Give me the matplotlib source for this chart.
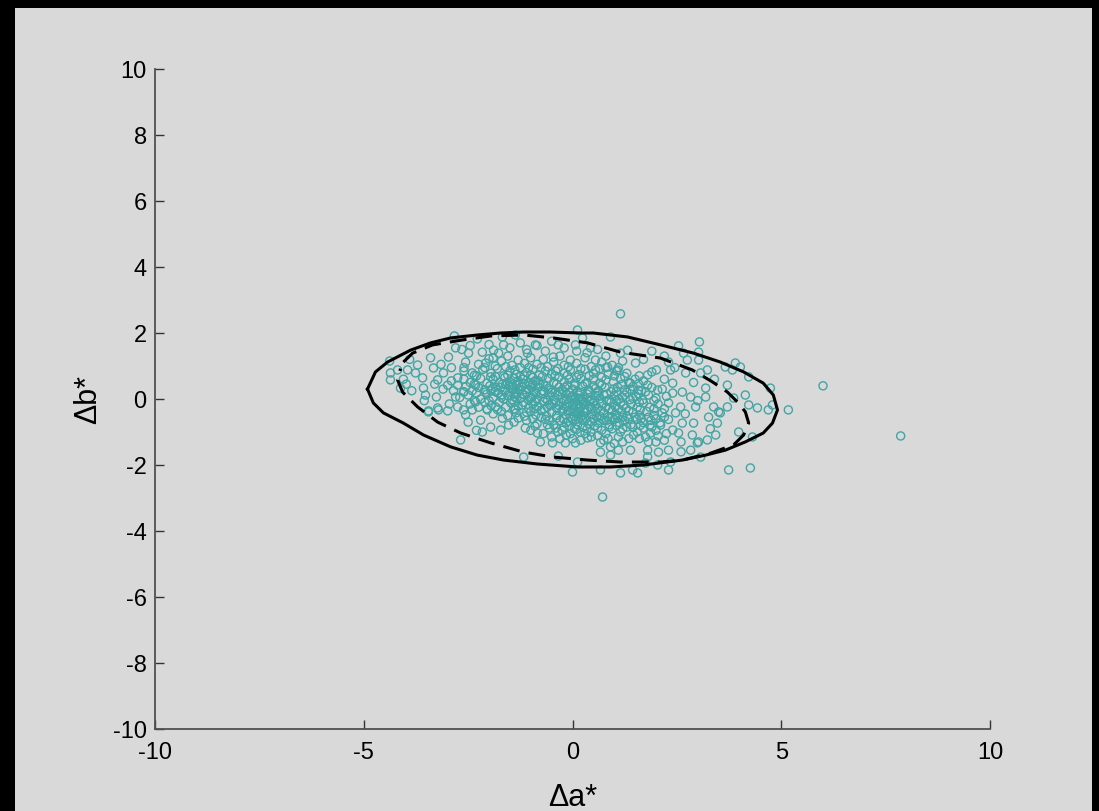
import numpy as np
import matplotlib
matplotlib.use("Agg")
import matplotlib.pyplot as plt
from matplotlib.patches import Rectangle

plt.rcParams['font.family'] = ['Liberation Sans', 'DejaVu Sans']
plt.rcParams['axes.unicode_minus'] = False

# colour difference samples (Δa*, Δb*)
left_pts = [
    (-4.38, 1.15), (-4.36, 0.79), (-4.36, 0.58), (-4.12, 0.33), (-4.19, 0.88),
    (-3.95, 0.88), (-3.98, 0.45), (-3.71, 1.03), (-3.76, 0.79), (-3.59, 0.64),
    (-3.57, 0.33), (-3.52, 0.12), (-3.26, 0.06), (-3.45, -0.36), (-3.23, -0.27),
    (-2.99, -0.36), (-3.33, 0.94), (-3.23, 0.58), (-3.09, 0.79), (-2.99, 0.42),
    (-2.97, 1.27), (-2.80, 1.55), (-2.75, 0.64), (-2.80, 0.06), (-2.61, 0.21),
    (-2.56, 1.12), (-2.49, 1.39), (-2.40, 0.79), (-2.32, 0.42), (-2.32, -0.09),
    (-2.16, 1.42), (-2.08, 1.09), (-1.89, 1.48), (-1.96, 0.67), (-1.77, 1.39),
    (-1.65, 1.64), (-1.84, 0.36), (-2.08, 0.21), (-2.61, -0.33), (-3.21, -0.33),
    (-2.83, 1.91), (-2.28, 1.82), (-1.68, 1.88), (-1.37, 1.94), (-2.68, -1.24),
    (-3.45, -0.39), (-2.75, -0.24), (-2.56, -0.48), (-2.40, -0.33), (-2.20, -0.64),
    (-2.16, -1.00), (-1.96, -0.85), (-1.72, -0.94), (-1.68, -0.58), (-1.53, -0.79),
    (-2.04, -0.33), (-1.84, -0.24), (-1.37, -0.33), (-3.90, 1.20), (-3.40, 1.25),
    (-3.15, 1.05), (-2.65, 1.50), (-2.90, 0.95), (-3.55, -0.05), (-2.95, -0.15),
    (-2.50, -0.70), (-2.30, -0.95), (-4.05, 0.60), (-3.85, 0.25), (-3.30, 0.45),
    (-2.60, 0.95), (-2.45, 1.62), (-2.00, 1.65), (-1.90, 1.25), (-1.50, 1.55),
    (-1.25, 1.70), (-1.10, 1.50), (-0.85, 1.62), (-0.65, 1.45), (-0.50, 1.75),
    (-0.20, 1.55), (0.10, 1.45), (0.35, 1.40), (0.60, 1.50), (0.80, 1.30),
]

upper_pts = [
    (0.12, 2.09), (-0.34, 1.64), (-0.89, 1.64), (0.07, 1.64), (0.24, 1.85),
    (0.43, 1.55), (0.91, 1.88), (1.15, 1.39), (1.32, 1.48), (1.51, 1.09),
    (1.80, 0.73), (2.01, 0.88), (2.04, 0.27), (1.58, 0.27), (1.39, 0.48),
    (1.08, 0.88), (0.84, 0.97), (0.55, 1.18), (-0.05, 1.18), (-0.46, 1.27),
    (-1.08, 1.39),
]

right_pts = [
    (3.04, 1.73), (2.54, 1.61), (3.02, 1.42), (2.66, 1.39), (2.75, 1.18),
    (3.02, 1.18), (2.30, 1.12), (2.35, 0.88), (2.71, 0.79), (3.23, 0.88),
    (3.07, 0.79), (3.66, 0.97), (3.90, 1.09), (3.83, 0.88), (4.02, 0.97),
    (4.22, 0.67), (4.74, 0.33), (4.79, -0.18), (4.43, -0.27), (4.22, -0.18),
    (4.14, 0.12), (3.86, 0.03), (3.71, 0.42), (3.19, 0.33), (3.19, 0.06),
    (3.38, -0.24), (3.71, -0.24), (3.50, -0.39), (3.26, -0.55), (2.83, 0.06),
    (2.95, -0.24), (2.63, 0.21), (2.59, -0.24), (2.40, 0.48), (2.40, 0.18),
    (2.30, -0.12), (2.47, -0.42), (3.98, -1.00), (4.31, -1.15), (4.69, -0.33),
    (3.47, -0.73), (3.54, -0.42), (3.43, -1.09), (3.23, -1.24), (3.02, -1.30),
    (2.87, -1.09), (2.99, -1.33), (2.83, -1.55), (3.07, -1.76), (2.54, -1.03),
    (2.90, -0.73), (2.63, -0.73), (2.40, -0.94), (2.30, -1.55), (2.35, -1.91),
    (2.30, -2.15), (1.70, 1.20), (1.90, 1.45), (2.20, 1.30), (2.45, 0.95),
    (2.90, 0.50), (3.40, 0.60), (2.00, -1.30), (1.80, -1.75), (2.60, -1.60),
    (3.30, -0.90), (2.70, -0.45), (3.00, -0.05), (2.20, -0.55), (1.90, -0.85),
]

lower_pts = [
    (0.72, -2.97), (0.00, -2.21), (0.67, -2.15), (1.15, -2.24), (1.56, -2.24),
    (1.44, -2.15), (2.04, -2.00), (1.75, -1.94), (-0.34, -1.73), (-1.17, -1.76),
    (0.12, -1.91), (0.67, -1.61), (0.91, -1.70), (1.10, -1.55), (1.39, -1.55),
    (1.80, -1.55), (2.06, -1.61), (0.67, -1.33), (0.91, -1.45), (1.20, -1.30),
    (-0.77, -1.30), (-0.48, -1.33), (-0.17, -1.33), (0.07, -1.33), (-1.13, -0.88),
    (-0.84, -1.03), (0.36, -1.18), (1.46, -1.09), (1.87, -1.03), (2.11, -0.79),
    (1.82, -1.30),
]

core_pts = [
    # b* 1.0 .. 1.3
    (-2.25, 1.05), (-2.00, 1.22), (-1.85, 1.00), (-1.70, 1.15), (-1.55, 1.30),
    (-1.45, 1.02), (-1.30, 1.18), (-1.15, 1.08), (-1.00, 1.25), (-0.85, 1.05),
    (-0.70, 1.20), (-0.60, 0.98), (-0.45, 1.12), (-0.30, 1.30), (-0.20, 1.02),
    (0.10, 1.08), (0.30, 1.25), (0.45, 0.98), (0.70, 1.12), (0.95, 1.02),
    (1.20, 1.15),
    # b* 0.7 .. 1.0
    (-2.60, 0.85), (-2.35, 0.72), (-2.15, 0.90), (-1.95, 0.78), (-1.80, 0.92),
    (-1.65, 0.70), (-1.50, 0.85), (-1.35, 0.75), (-1.25, 0.95), (-1.10, 0.80),
    (-0.95, 0.90), (-0.80, 0.72), (-0.65, 0.85), (-0.50, 0.75), (-0.35, 0.92),
    (-0.20, 0.78), (-0.05, 0.88), (0.15, 0.74), (0.30, 0.90), (0.50, 0.78),
    (0.65, 0.92), (0.85, 0.75), (1.05, 0.85), (1.30, 0.78), (1.60, 0.70),
    (1.90, 0.82),
    # b* 0.45 .. 0.7
    (-2.90, 0.55), (-2.60, 0.60), (-2.45, 0.50), (-2.20, 0.62), (-2.05, 0.48),
    (-1.90, 0.60), (-1.75, 0.50), (-1.62, 0.65), (-1.50, 0.52), (-1.40, 0.62),
    (-1.28, 0.48), (-1.18, 0.60), (-1.05, 0.50), (-0.95, 0.65), (-0.82, 0.55),
    (-0.70, 0.45), (-0.58, 0.62), (-0.45, 0.50), (-0.32, 0.66), (-0.20, 0.52),
    (-0.08, 0.60), (0.05, 0.48), (0.20, 0.62), (0.35, 0.50), (0.50, 0.60),
    (0.65, 0.48), (0.80, 0.58), (0.98, 0.52), (1.15, 0.62), (1.35, 0.50),
    (1.70, 0.55), (2.20, 0.60),
    # b* 0.2 .. 0.45
    (-3.10, 0.30), (-2.85, 0.25), (-2.55, 0.38), (-2.40, 0.25), (-2.25, 0.35),
    (-2.10, 0.28), (-1.98, 0.40), (-1.85, 0.22), (-1.72, 0.35), (-1.62, 0.25),
    (-1.52, 0.40), (-1.42, 0.30), (-1.32, 0.20), (-1.22, 0.38), (-1.12, 0.28),
    (-1.02, 0.42), (-0.92, 0.22), (-0.82, 0.35), (-0.72, 0.25), (-0.62, 0.40),
    (-0.52, 0.28), (-0.42, 0.20), (-0.32, 0.36), (-0.22, 0.25), (-0.12, 0.42),
    (0.00, 0.30), (0.12, 0.22), (0.25, 0.38), (0.38, 0.28), (0.50, 0.40),
    (0.62, 0.25), (0.78, 0.35), (0.92, 0.22), (1.08, 0.36), (1.25, 0.28),
    (1.45, 0.38), (1.65, 0.25), (1.90, 0.35), (2.15, 0.30),
    # b* -0.05 .. 0.2
    (-2.70, 0.05), (-2.50, 0.12), (-2.20, 0.00), (-2.05, 0.15), (-1.90, 0.05),
    (-1.78, 0.18), (-1.65, 0.00), (-1.55, 0.10), (-1.45, -0.02), (-1.35, 0.15),
    (-1.25, 0.02), (-1.15, 0.12), (-1.05, -0.03), (-0.95, 0.10), (-0.85, 0.00),
    (-0.75, 0.15), (-0.65, 0.02), (-0.55, 0.12), (-0.45, -0.02), (-0.35, 0.10),
    (-0.25, 0.00), (-0.15, 0.15), (-0.05, 0.05), (0.05, -0.02), (0.15, 0.12),
    (0.25, 0.02), (0.35, 0.15), (0.45, -0.03), (0.55, 0.10), (0.65, 0.00),
    (0.75, 0.12), (0.88, -0.02), (1.00, 0.10), (1.12, 0.00), (1.25, 0.12),
    (1.38, -0.02), (1.52, 0.08), (1.68, -0.03), (1.82, 0.12), (2.00, 0.02),
    (2.25, 0.08),
    # b* -0.3 .. -0.05
    (-2.45, -0.15), (-2.25, -0.25), (-2.10, -0.10), (-1.95, -0.20), (-1.75, -0.10),
    (-1.60, -0.25), (-1.48, -0.12), (-1.30, -0.22), (-1.18, -0.10), (-1.05, -0.28),
    (-0.95, -0.15), (-0.82, -0.22), (-0.70, -0.08), (-0.60, -0.25), (-0.48, -0.15),
    (-0.38, -0.28), (-0.28, -0.10), (-0.18, -0.22), (-0.08, -0.12), (0.02, -0.28),
    (0.10, -0.15), (0.20, -0.25), (0.30, -0.10), (0.40, -0.22), (0.50, -0.12),
    (0.60, -0.28), (0.70, -0.15), (0.80, -0.25), (0.92, -0.10), (1.02, -0.22),
    (1.15, -0.12), (1.28, -0.28), (1.40, -0.15), (1.55, -0.25), (1.70, -0.12),
    (1.85, -0.25), (2.05, -0.15), (2.20, -0.30),
    # b* -0.55 .. -0.3
    (-1.90, -0.45), (-1.70, -0.38), (-1.55, -0.50), (-1.35, -0.42), (-1.15, -0.52),
    (-1.00, -0.38), (-0.88, -0.48), (-0.75, -0.35), (-0.62, -0.52), (-0.50, -0.40),
    (-0.38, -0.50), (-0.25, -0.35), (-0.15, -0.48), (-0.05, -0.38), (0.05, -0.52),
    (0.15, -0.40), (0.25, -0.50), (0.35, -0.36), (0.45, -0.48), (0.55, -0.38),
    (0.65, -0.52), (0.75, -0.42), (0.85, -0.55), (0.95, -0.35), (1.05, -0.48),
    (1.18, -0.38), (1.30, -0.52), (1.45, -0.40), (1.60, -0.50), (1.78, -0.38),
    (1.95, -0.50), (2.15, -0.42),
    # b* -0.8 .. -0.55
    (-1.40, -0.70), (-1.10, -0.65), (-0.85, -0.75), (-0.65, -0.62), (-0.45, -0.78),
    (-0.30, -0.65), (-0.15, -0.72), (0.00, -0.60), (0.12, -0.78), (0.25, -0.65),
    (0.38, -0.75), (0.50, -0.60), (0.62, -0.72), (0.75, -0.65), (0.88, -0.78),
    (1.00, -0.62), (1.12, -0.72), (1.25, -0.65), (1.40, -0.78), (1.55, -0.62),
    (1.70, -0.72), (1.88, -0.65), (2.10, -0.72), (2.30, -0.62),
    # b* -1.1 .. -0.8
    (-1.00, -0.95), (-0.70, -1.05), (-0.55, -0.88), (-0.35, -1.00), (-0.20, -0.85),
    (-0.05, -1.05), (0.10, -0.92), (0.25, -0.85), (0.45, -1.00), (0.60, -0.88),
    (0.80, -1.05), (0.95, -0.90), (1.15, -1.00), (1.30, -0.85), (1.55, -1.00),
    (1.70, -0.88), (2.00, -0.95), (2.25, -1.05),
    # b* below -1.1
    (-0.30, -1.20), (0.20, -1.25), (0.45, -1.15), (0.85, -1.20), (1.00, -1.35),
    (1.60, -1.20), (2.20, -1.25), (2.60, -1.30),
    # the two dense clumps
    (-1.45, 0.45), (-1.30, 0.55), (-1.20, 0.15), (-1.40, 0.15), (-1.05, 0.30),
    (-0.95, 0.45), (-1.60, 0.45), (-1.15, 0.70), (-0.90, 0.55), (0.00, -0.20),
    (0.10, -0.45), (0.20, -0.05), (-0.10, -0.35), (0.30, -0.40), (0.40, -0.05),
    (-0.20, -0.05), (0.25, -0.15), (0.05, -0.10), (-0.05, -0.55), (0.15, -0.60),
]

# in-between samples of the crowded middle
core_fill_pts = [
    (-2.10, 0.95), (-1.60, 0.98), (-1.38, 0.88), (-1.05, 0.95), (-0.75, 0.95),
    (-0.40, 0.85), (-0.10, 0.98), (0.20, 0.92), (0.55, 0.88), (0.80, 0.95),
    (1.10, 0.95),
    (-2.30, 0.70), (-1.85, 0.68), (-1.55, 0.72), (-1.25, 0.68), (-1.00, 0.72),
    (-0.72, 0.68), (-0.42, 0.70), (-0.12, 0.72), (0.10, 0.66), (0.40, 0.70),
    (0.70, 0.66), (1.00, 0.70), (1.25, 0.68), (1.50, 0.60),
    (-2.75, 0.42), (-2.35, 0.45), (-1.92, 0.32), (-1.68, 0.45), (-1.48, 0.35),
    (-1.35, 0.42), (-1.15, 0.46), (-0.98, 0.35), (-0.78, 0.45), (-0.58, 0.32),
    (-0.38, 0.45), (-0.18, 0.35), (0.05, 0.40), (0.30, 0.46), (0.55, 0.32),
    (0.70, 0.42), (0.98, 0.30), (1.18, 0.44), (1.38, 0.30), (1.58, 0.46),
    (1.80, 0.42),
    (-2.60, 0.22), (-2.30, 0.18), (-1.95, 0.25), (-1.70, 0.12), (-1.50, 0.22),
    (-1.38, 0.05), (-1.28, 0.28), (-1.10, 0.20), (-0.98, 0.05), (-0.88, 0.18),
    (-0.68, 0.22), (-0.50, 0.20), (-0.30, 0.22), (-0.08, 0.20), (0.08, 0.05),
    (0.20, 0.20), (0.42, 0.22), (0.60, 0.18), (0.82, 0.15), (1.05, 0.22),
    (1.30, 0.20), (1.58, 0.15), (1.75, 0.22),
    (-2.35, -0.05), (-2.00, -0.05), (-1.70, 0.05), (-1.40, -0.08), (-1.20, -0.18),
    (-1.00, 0.02), (-0.90, -0.08), (-0.60, -0.05), (-0.40, -0.10), (-0.15, -0.02),
    (0.00, 0.10), (0.15, 0.02), (0.35, 0.00), (0.52, -0.05), (0.62, 0.10),
    (0.82, -0.05), (1.05, -0.05), (1.20, 0.05), (1.45, 0.02), (1.60, -0.10),
    (1.95, -0.05),
    (-2.05, -0.30), (-1.80, -0.32), (-1.40, -0.30), (-1.10, -0.40), (-0.90, -0.30),
    (-0.68, -0.30), (-0.55, -0.18), (-0.32, -0.20), (-0.22, -0.30), (-0.12, -0.22),
    (0.05, -0.35), (0.15, -0.28), (0.28, -0.30), (0.45, -0.30), (0.55, -0.20),
    (0.68, -0.35), (0.88, -0.30), (1.10, -0.30), (1.22, -0.20), (1.35, -0.35),
    (1.62, -0.32), (1.95, -0.30),
    (-1.30, -0.58), (-0.95, -0.60), (-0.75, -0.55), (-0.55, -0.65), (-0.38, -0.58),
    (-0.22, -0.60), (-0.10, -0.68), (0.08, -0.62), (0.20, -0.55), (0.32, -0.60),
    (0.45, -0.68), (0.58, -0.55), (0.70, -0.60), (0.82, -0.65), (0.95, -0.55),
    (1.08, -0.58), (1.20, -0.55), (1.35, -0.60), (1.50, -0.55), (1.65, -0.60),
    (1.82, -0.55), (2.00, -0.60),
    (-0.90, -0.82), (-0.60, -0.78), (-0.40, -0.88), (-0.25, -0.95), (-0.08, -0.82),
    (0.05, -0.90), (0.18, -1.00), (0.35, -0.90), (0.52, -0.82), (0.70, -0.95),
    (0.88, -0.85), (1.05, -0.80), (1.20, -0.90), (1.45, -0.85), (1.62, -0.80),
    (1.85, -0.80),
    (-0.50, -1.15), (-0.15, -1.10), (0.00, -1.20), (0.30, -1.05), (0.60, -1.10),
    (0.75, -1.25), (1.10, -1.15), (1.35, -1.20), (1.75, -1.15), (2.05, -1.12),
]

outlier_pts = [
    (6.00, 0.40), (7.86, -1.12), (1.15, 2.58), (5.17, -0.33),
    (3.74, -2.15), (4.26, -2.09),
]

# outer (solid) and inner (dashed) boundary contours
outer_contour = [
    (-4.91, 0.30), (-4.72, 0.82), (-4.43, 1.12), (-3.88, 1.48), (-3.40, 1.70),
    (-2.92, 1.85), (-2.28, 1.94), (-1.72, 2.00), (-1.17, 2.03), (-0.53, 2.03),
    (0.19, 2.00), (0.50, 2.00), (1.32, 1.88), (2.11, 1.64), (2.90, 1.39),
    (3.54, 1.12), (4.10, 0.82), (4.57, 0.48), (4.81, 0.12), (4.91, -0.33),
    (4.79, -0.73), (4.57, -1.03), (4.14, -1.30), (3.66, -1.55), (3.19, -1.70),
    (2.63, -1.85), (1.70, -2.00), (0.91, -2.06), (0.12, -2.06), (-0.84, -1.97),
    (-1.65, -1.85), (-2.28, -1.70), (-2.92, -1.45), (-3.57, -1.09), (-4.05, -0.73),
    (-4.53, -0.42), (-4.77, -0.12), (-4.91, 0.30),
]

inner_contour = [
    (-4.05, 1.12), (-3.83, 1.39), (-3.35, 1.64), (-2.63, 1.79), (-1.96, 1.91),
    (-1.17, 1.94), (-0.46, 1.85), (0.36, 1.70), (1.15, 1.42), (2.11, 1.24),
    (2.87, 0.88), (3.35, 0.52), (3.71, 0.21), (3.95, -0.09), (4.14, -0.39),
    (4.22, -0.73), (4.10, -1.09), (3.86, -1.39), (3.31, -1.64), (2.63, -1.85),
    (2.11, -1.91), (1.15, -1.91), (0.36, -1.85), (-0.46, -1.76), (-1.17, -1.61),
    (-1.96, -1.33), (-2.68, -1.03), (-3.23, -0.70), (-3.71, -0.24), (-4.07, 0.21),
    (-4.19, 0.58), (-4.12, 0.92),
]

pts = np.array(left_pts + upper_pts + right_pts + lower_pts
               + core_pts + core_fill_pts + outlier_pts)
outer = np.array(outer_contour)
inner = np.array(inner_contour)

W, H = 1099, 812
fig = plt.figure(figsize=(W / 100, H / 100), dpi=100, facecolor='black')
# grey panel inside the black frame
fig.patches.append(Rectangle((15 / W, 0), 1077 / W, 803 / H,
                             transform=fig.transFigure, facecolor='#d9d9d9',
                             edgecolor='none', zorder=-10))

ax = fig.add_axes([155 / W, 82 / H, 835 / W, 660 / H])
ax.set_facecolor('none')

ax.scatter(pts[:, 0], pts[:, 1], s=34, facecolors='none',
           edgecolors='#42a5a5', linewidths=1.0, zorder=2)
ax.plot(outer[:, 0], outer[:, 1], color='black', lw=2.2, zorder=3)
ax.plot(inner[:, 0], inner[:, 1], color='black', lw=2.2, ls=(0, (5.5, 3)), zorder=3)

ax.set_xlim(-10, 10)
ax.set_ylim(-10, 10)
ax.set_xticks([-10, -5, 0, 5, 10])
ax.set_yticks(np.arange(-10, 11, 2))

for side in ['top', 'right']:
    ax.spines[side].set_visible(False)
for side in ['left', 'bottom']:
    ax.spines[side].set_color('#505050')
    ax.spines[side].set_linewidth(1.3)

ax.tick_params(direction='in', length=6.5, width=1.0, color='#333333',
               labelsize=17, labelcolor='black')
ax.tick_params(axis='y', pad=6)
ax.tick_params(axis='x', pad=9)

ax.set_xlabel('Δa*', fontsize=22)
ax.set_ylabel('Δb*', fontsize=22)
ax.xaxis.set_label_coords(0.5, -0.08)
ax.yaxis.set_label_coords(-0.062, 0.5)

fig.savefig('out.png', dpi=100, facecolor=fig.get_facecolor())
